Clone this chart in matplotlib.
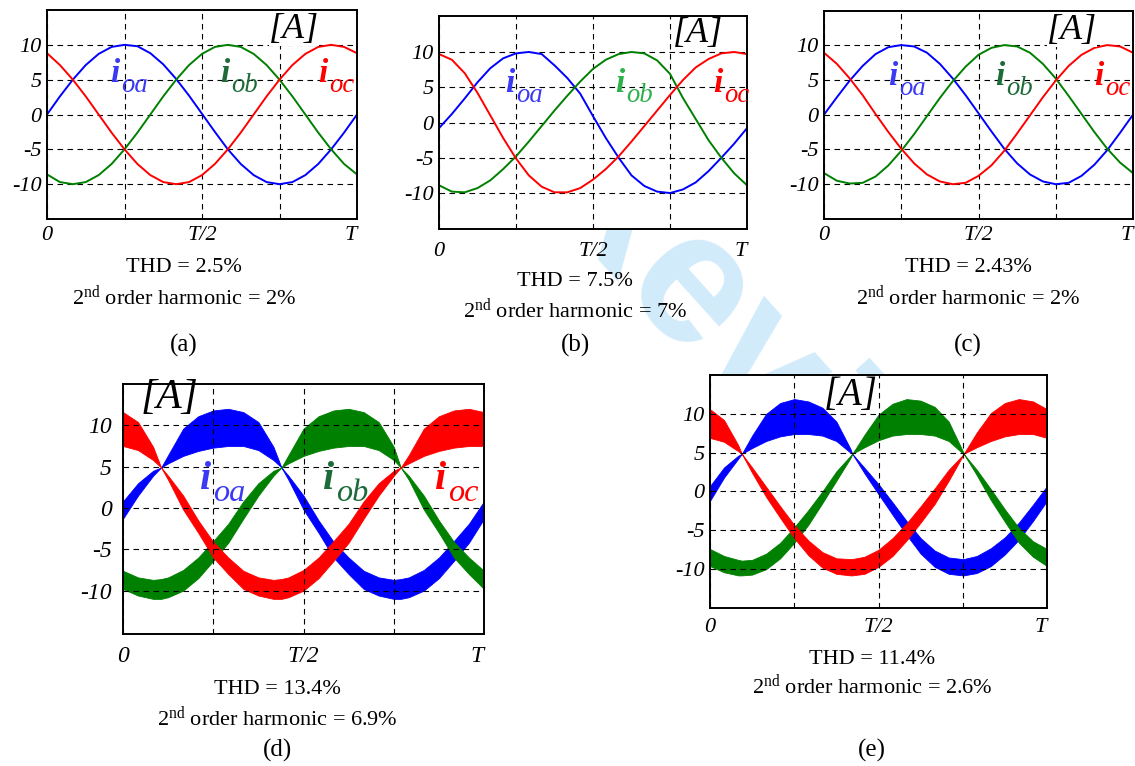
import matplotlib
matplotlib.use("Agg")
import matplotlib.pyplot as plt
from matplotlib.transforms import Bbox

plt.rcParams["font.family"] = ["Liberation Serif", "DejaVu Serif"]
plt.rcParams["mathtext.fontset"] = "custom"
plt.rcParams["mathtext.rm"] = "Liberation Serif"
plt.rcParams["mathtext.it"] = "Liberation Serif:italic"

# --- sample angles (deg over one period T) ---
ang = [0, 15, 30, 45, 60, 75, 90, 105, 120, 135, 150, 165, 180,
       195, 210, 225, 240, 255, 270, 285, 300, 315, 330, 345, 360]

# --- (a) ---
ioa_a = [0, 2.6, 5.0, 7.1, 8.7, 9.7, 10.0, 9.8, 8.8, 7.2, 5.1, 2.7, 0.1,
         -2.5, -5.0, -7.1, -8.7, -9.7, -10.0, -9.7, -8.7, -7.1, -5.0, -2.6, 0.0]
iob_a = [-8.6, -9.7, -10.0, -9.7, -8.7, -7.1, -5.0, -2.6, 0, 2.6, 5.0, 7.1, 8.7,
         9.7, 10.0, 9.7, 8.7, 7.1, 5.0, 2.6, 0, -2.6, -5.0, -7.1, -8.6]
ioc_a = [8.8, 7.1, 5.0, 2.6, 0, -2.6, -5.0, -7.1, -8.7, -9.7, -10.0, -9.7, -8.7,
         -7.1, -5.0, -2.6, 0, 2.6, 5.0, 7.1, 8.7, 9.7, 10.0, 9.7, 8.8]

# --- (b) ---
ioa_b = [-0.8, 1.2, 3.4, 5.7, 7.7, 9.1, 9.8, 10.0, 9.7, 8.1, 6.3, 4.1, 0.9,
         -2.2, -5.0, -7.5, -9.0, -9.8, -10.0, -9.5, -8.5, -6.9, -5.0, -3.0, -0.8]
iob_b = [-8.9, -9.8, -9.9, -9.3, -8.2, -6.6, -4.8, -2.7, -0.5, 1.7, 3.8, 5.8, 7.6,
         8.9, 9.7, 10.0, 9.8, 8.8, 6.9, 3.5, 0.5, -2.5, -5.0, -7.2, -8.9]
ioc_b = [9.7, 8.9, 7.0, 4.2, 1.0, -2.2, -5.1, -7.5, -9.1, -9.9, -9.9, -9.3, -8.1,
         -6.6, -4.8, -2.7, -0.5, 1.7, 3.9, 6.0, 7.8, 9.0, 9.8, 10.0, 9.7]

# --- (c) ---
ioa_c = [0, 2.5, 4.9, 7.0, 8.7, 9.7, 10.0, 9.8, 8.9, 7.3, 5.2, 2.8, 0.2,
         -2.4, -4.9, -7.0, -8.6, -9.6, -10.0, -9.8, -8.8, -7.2, -5.1, -2.6, 0]
iob_c = [-8.4, -9.5, -9.9, -9.8, -8.9, -7.3, -5.2, -2.8, -0.2, 2.4, 4.8, 6.9, 8.6,
         9.6, 10.0, 9.8, 8.9, 7.3, 5.2, 2.7, 0.1, -2.5, -4.9, -6.9, -8.4]
ioc_c = [8.9, 7.3, 5.2, 2.8, 0.1, -2.5, -4.9, -7.0, -8.6, -9.6, -10.0, -9.8, -8.8,
         -7.3, -5.2, -2.7, -0.1, 2.5, 4.9, 7.0, 8.6, 9.6, 10.0, 9.8, 8.9]

# --- (d): ripple bands, upper / lower envelopes ---
ang_d = [0, 15, 30, 38, 45, 60, 75, 90, 105, 120, 135, 150, 158, 165, 180,
         195, 210, 225, 240, 255, 270, 277, 285, 300, 315, 330, 345, 360]
ioa_d_hi = [0.8, 3.0, 4.5, 4.9, 6.4, 9.6, 11.1, 11.8, 12.0, 11.6, 10.4, 7.4, 4.9, 3.9, 1.5,
            -1.5, -4.1, -6.0, -7.6, -8.4, -8.7, -8.6, -8.4, -7.5, -6.0, -4.0, -1.9, 0.8]
ioa_d_lo = [-1.3, 1.5, 3.9, 4.9, 5.4, 6.3, 6.9, 7.3, 7.5, 7.5, 7.0, 5.8, 4.9, 3.4, -0.2,
            -3.0, -6.0, -8.0, -9.8, -10.6, -11.0, -11.0, -10.8, -10.0, -8.5, -6.4, -4.2, -1.3]
iob_d_hi = [-7.6, -8.4, -8.7, -8.6, -8.4, -7.5, -6.0, -4.0, -1.9, 0.8, 3.0, 4.5, 4.9, 6.4, 9.6,
            11.1, 11.8, 12.0, 11.6, 10.4, 7.4, 4.9, 3.9, 1.5, -1.5, -4.1, -6.0, -7.6]
iob_d_lo = [-9.8, -10.6, -11.0, -11.0, -10.8, -10.0, -8.5, -6.4, -4.2, -1.3, 1.5, 3.9, 4.9, 5.4, 6.3,
            6.9, 7.3, 7.5, 7.5, 7.0, 5.8, 4.9, 3.4, -0.2, -3.0, -6.0, -8.0, -9.8]
ioc_d_hi = [11.6, 10.4, 7.4, 4.9, 3.9, 1.5, -1.5, -4.1, -6.0, -7.6, -8.4, -8.7, -8.6, -8.4, -7.5,
            -6.0, -4.0, -1.9, 0.8, 3.0, 4.5, 4.9, 6.4, 9.6, 11.1, 11.8, 12.0, 11.6]
ioc_d_lo = [7.5, 7.0, 5.8, 4.9, 3.4, -0.2, -3.0, -6.0, -8.0, -9.8, -10.6, -11.0, -11.0, -10.8, -10.0,
            -8.5, -6.4, -4.2, -1.3, 1.5, 3.9, 4.9, 5.4, 6.3, 6.9, 7.3, 7.5, 7.5]

# --- (e) ---
ang_e = [0, 15, 30, 34, 45, 60, 75, 90, 105, 120, 135, 150, 152, 165, 180,
         195, 210, 225, 240, 255, 270, 271, 285, 300, 315, 330, 345, 360]
ioa_e_hi = [0.7, 3.1, 4.6, 4.85, 7.2, 10.0, 11.4, 11.9, 11.6, 10.8, 9.0, 5.5, 4.85, 3.05, 0.95,
            -1.4, -3.8, -6.0, -7.6, -8.5, -8.7, -8.7, -8.3, -7.3, -5.9, -4.0, -1.7, 0.7]
ioa_e_lo = [-1.2, 1.8, 4.2, 4.85, 5.6, 6.5, 7.1, 7.4, 7.4, 7.2, 6.5, 5.0, 4.85, 2.35, -0.35,
            -3.0, -5.6, -8.0, -9.7, -10.6, -10.8, -10.8, -10.5, -9.6, -8.1, -6.2, -3.8, -1.2]
iob_e_hi = [-7.4, -8.3, -8.8, -8.9, -8.8, -8.0, -6.6, -4.6, -2.4, 0.0, 2.6, 4.6, 4.85, 7.3, 9.9,
            11.3, 11.9, 11.7, 10.9, 9.0, 5.2, 4.85, 2.8, 0.3, -2.3, -4.7, -6.4, -7.4]
iob_e_lo = [-9.6, -10.4, -10.8, -10.8, -10.7, -10.0, -8.6, -6.6, -4.3, -1.5, 1.4, 4.3, 4.85, 5.7, 6.6,
            7.2, 7.4, 7.4, 7.2, 6.5, 4.9, 4.85, 2.1, -1.1, -3.9, -6.6, -8.4, -9.6]
ioc_e_hi = [10.6, 9.2, 6.0, 4.85, 3.1, 0.6, -1.9, -4.3, -6.3, -7.8, -8.6, -8.7, -8.7, -8.4, -7.5,
            -6.0, -4.1, -1.9, 0.4, 2.8, 4.7, 4.85, 7.6, 10.1, 11.4, 11.9, 11.6, 10.6]
ioc_e_lo = [6.9, 6.4, 5.2, 4.85, 2.4, -0.7, -3.4, -6.0, -8.2, -9.8, -10.6, -10.8, -10.8, -10.6, -9.7,
            -8.3, -6.3, -4.0, -1.6, 1.4, 4.6, 4.85, 5.7, 6.5, 7.1, 7.4, 7.4, 6.9]

captions = {
    "a": ("THD = 2.5%", "2$^{\\mathrm{nd}}$ order harmonic = 2%"),
    "b": ("THD = 7.5%", "2$^{\\mathrm{nd}}$ order harmonic = 7%"),
    "c": ("THD = 2.43%", "2$^{\\mathrm{nd}}$ order harmonic = 2%"),
    "d": ("THD = 13.4%", "2$^{\\mathrm{nd}}$ order harmonic = 6.9%"),
    "e": ("THD = 11.4%", "2$^{\\mathrm{nd}}$ order harmonic = 2.6%"),
}

BLUE, GREEN, RED = "#0000ff", "#008000", "#ff0000"
W, H = 1135, 766
fig = plt.figure(figsize=(W / 100, H / 100), dpi=100)


def make_axes(l, r, t, b, ylim, fs=16, xpad=5, ypad=4):
    ax = fig.add_axes([l / W, 1 - b / H, (r - l) / W, (b - t) / H])
    ax.set_xlim(0, 1)
    ax.set_ylim(*ylim)
    ax.set_xticks([0, 0.25, 0.5, 0.75, 1])
    ax.set_xticklabels(["0", "", "T/2", "", "T"])
    ax.set_yticks([-10, -5, 0, 5, 10])
    ax.set_yticklabels(["-10", "-5", "0", "5", "10"])
    ax.tick_params(axis="x", length=0, labelsize=fs, pad=xpad)
    ax.tick_params(axis="y", length=0, labelsize=fs, pad=ypad)
    for lab in ax.get_xticklabels() + ax.get_yticklabels():
        lab.set_fontstyle("italic")
    ax.get_xticklabels()[-1].set_horizontalalignment("right")
    ax.grid(True, color="black", linestyle=(0, (5, 4)), linewidth=0.8)
    for s in ax.spines.values():
        s.set_linewidth(1.4)
    ax.set_zorder(1)
    return ax


def series_label(ax, x, y, sub, color, size):
    ax.text(x, y, "i", color=color, fontsize=size, fontweight="bold",
            fontstyle="italic", ha="left", va="baseline", zorder=5)
    ax.annotate(sub, (x, y), xytext=(size * 0.33, -size * 0.3),
                textcoords="offset points", color=color, fontsize=size * 0.8,
                fontstyle="italic", ha="left", va="baseline", zorder=5)


def amp_label(ax, x, y, fs=26, box=True):
    kw = dict(facecolor="white", edgecolor="none", pad=0) if box else None
    ax.text(x, y, "[A]", transform=ax.transAxes, fontsize=fs, fontstyle="italic",
            ha="center", va="center", bbox=kw, zorder=6)


def caption(key, x, y1, y2, y3, fs=16):
    thd, harm = captions[key]
    fig.text(x / W, 1 - y1 / H, thd, ha="center", va="center", fontsize=fs)
    fig.text(x / W, 1 - y2 / H, harm, ha="center", va="center", fontsize=fs)
    fig.text(x / W, 1 - y3 / H, "(" + key + ")", ha="center", va="center", fontsize=18)


tt = [a / 360 for a in ang]
td = [a / 360 for a in ang_d]
te = [a / 360 for a in ang_e]

# watermark (sits under the plot boxes; tail hidden behind panel (e))
wm = fig.text(777 / W, 1 - 400 / H, "Review", rotation=-48, color="#d2ebfb",
              fontsize=135, fontweight="bold", family="Liberation Sans",
              ha="center", va="center", zorder=-1)
wm.set_clip_box(Bbox([[0, H - 608], [1047, H]]))

# (a)
ax = make_axes(47, 357, 10, 219, (-15, 15))
ax.plot(tt, ioa_a, color=BLUE, lw=1.4)
ax.plot(tt, iob_a, color=GREEN, lw=1.4)
ax.plot(tt, ioc_a, color=RED, lw=1.4)
series_label(ax, 0.203, 4.6, "oa", "#3a3af5", 24)
series_label(ax, 0.558, 4.6, "ob", "#1d6b38", 24)
series_label(ax, 0.874, 4.6, "oc", RED, 24)
amp_label(ax, 0.797, 0.905)
caption("a", 184, 268, 297, 345)

# (b)
ax = make_axes(439, 747, 16, 229, (-15.1, 15.1), xpad=9)
ax.plot(tt, ioa_b, color=BLUE, lw=1.4)
ax.plot(tt, iob_b, color=GREEN, lw=1.4)
ax.plot(tt, ioc_b, color=RED, lw=1.4)
series_label(ax, 0.214, 4.3, "oa", "#3a3af5", 24)
series_label(ax, 0.571, 4.3, "ob", "#2cb04a", 24)
series_label(ax, 0.89, 4.3, "oc", RED, 24)
amp_label(ax, 0.841, 0.92)
caption("b", 575, 282, 310, 345)

# (c)
ax = make_axes(824, 1133, 11, 219, (-15, 14.9))
ax.plot(tt, ioa_c, color=BLUE, lw=1.4)
ax.plot(tt, iob_c, color=GREEN, lw=1.4)
ax.plot(tt, ioc_c, color=RED, lw=1.4)
series_label(ax, 0.208, 4.2, "oa", "#3a3af5", 24)
series_label(ax, 0.555, 4.2, "ob", "#1d6b38", 24)
series_label(ax, 0.874, 4.2, "oc", RED, 24)
amp_label(ax, 0.803, 0.905)
caption("c", 968, 268, 297, 345)

# (d)
ax = make_axes(123, 484, 384, 634, (-15.25, 15), fs=17, xpad=9, ypad=8)
ax.fill_between(td, ioa_d_lo, ioa_d_hi, color=BLUE, lw=0.6)
ax.fill_between(td, iob_d_lo, iob_d_hi, color=GREEN, lw=0.6)
ax.fill_between(td, ioc_d_lo, ioc_d_hi, color=RED, lw=0.6)
series_label(ax, 0.213, 2.3, "oa", "#3a3af5", 29)
series_label(ax, 0.554, 2.3, "ob", "#1d6b38", 29)
series_label(ax, 0.863, 2.3, "oc", RED, 29)
amp_label(ax, 0.13, 0.944, fs=30, box=False)
caption("d", 277, 690, 718, 750)

# (e)
ax = make_axes(710, 1047, 375, 608, (-15, 15), xpad=7)
ax.fill_between(te, ioa_e_lo, ioa_e_hi, color=BLUE, lw=0.6)
ax.fill_between(te, iob_e_lo, iob_e_hi, color=GREEN, lw=0.6)
ax.fill_between(te, ioc_e_lo, ioc_e_hi, color=RED, lw=0.6)
amp_label(ax, 0.418, 0.91, fs=28, box=False)
caption("e", 872, 659, 686, 750)

fig.savefig("out.png", dpi=100, facecolor="white")
